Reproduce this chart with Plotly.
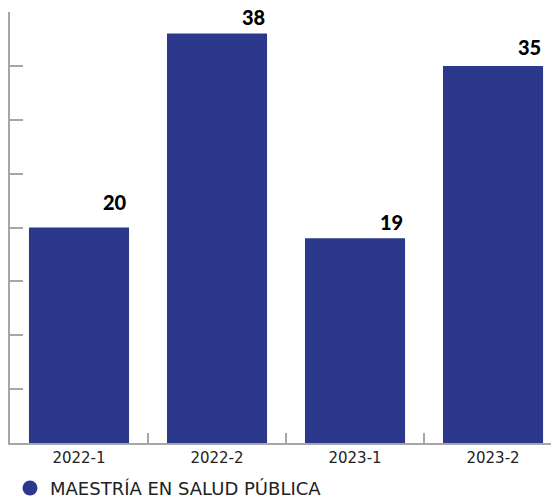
import plotly.graph_objects as go

# datos
periodos = ["2022-1", "2022-2", "2023-1", "2023-2"]
estudiantes = [20, 38, 19, 35]
serie = "MAESTRÍA EN SALUD PÚBLICA"

AZUL = "#2c388b"
GRIS = "#a6a6a6"
BAR_W = 0.725
# separación (px) de cada etiqueta sobre su barra, como en el original
desplaz = [12, 3, 2, 5]

fig = go.Figure()
fig.add_trace(go.Bar(x=periodos, y=estudiantes, width=BAR_W,
                     marker=dict(color=AZUL, line=dict(width=0)),
                     showlegend=False, hoverinfo="x+y"))
# traza vacía solo para el círculo de la leyenda
fig.add_trace(go.Scatter(x=[periodos[0]], y=[None], mode="markers", name=serie,
                         marker=dict(color=AZUL, size=15, symbol="circle")))

for i, v in enumerate(estudiantes):
    fig.add_annotation(x=i + BAR_W / 2, y=v, text=str(v), showarrow=False,
                       xanchor="right", yanchor="bottom", yshift=desplaz[i],
                       font=dict(family="Lato", size=20, color="#000", weight=900))

# la página deja 8px de margen en el body: se compensa en el tamaño
fig.update_layout(
    width=551, height=489,
    margin=dict(l=2, r=0, t=4, b=54, autoexpand=False),
    plot_bgcolor="white", paper_bgcolor="white",
    xaxis=dict(type="category", range=[-0.5, 3.478], showline=True, linecolor=GRIS,
               linewidth=2, ticks="inside", tickson="boundaries", ticklen=10,
               tickwidth=2, tickcolor=GRIS, showgrid=False, zeroline=False,
               automargin=False,
               tickfont=dict(family="DejaVu Sans", size=15, color="#222")),
    yaxis=dict(range=[0, 40], dtick=5, showline=True, linecolor=GRIS, linewidth=2,
               ticks="inside", ticklen=13, tickwidth=2, tickcolor=GRIS,
               showticklabels=False, showgrid=False, zeroline=False, automargin=False),
    showlegend=True,
    legend=dict(orientation="h", x=0.0, xanchor="left", y=-0.105, yanchor="middle",
                font=dict(family="DejaVu Sans", size=18, color="#222"),
                itemwidth=30),
)

fig.write_html("out.html")
